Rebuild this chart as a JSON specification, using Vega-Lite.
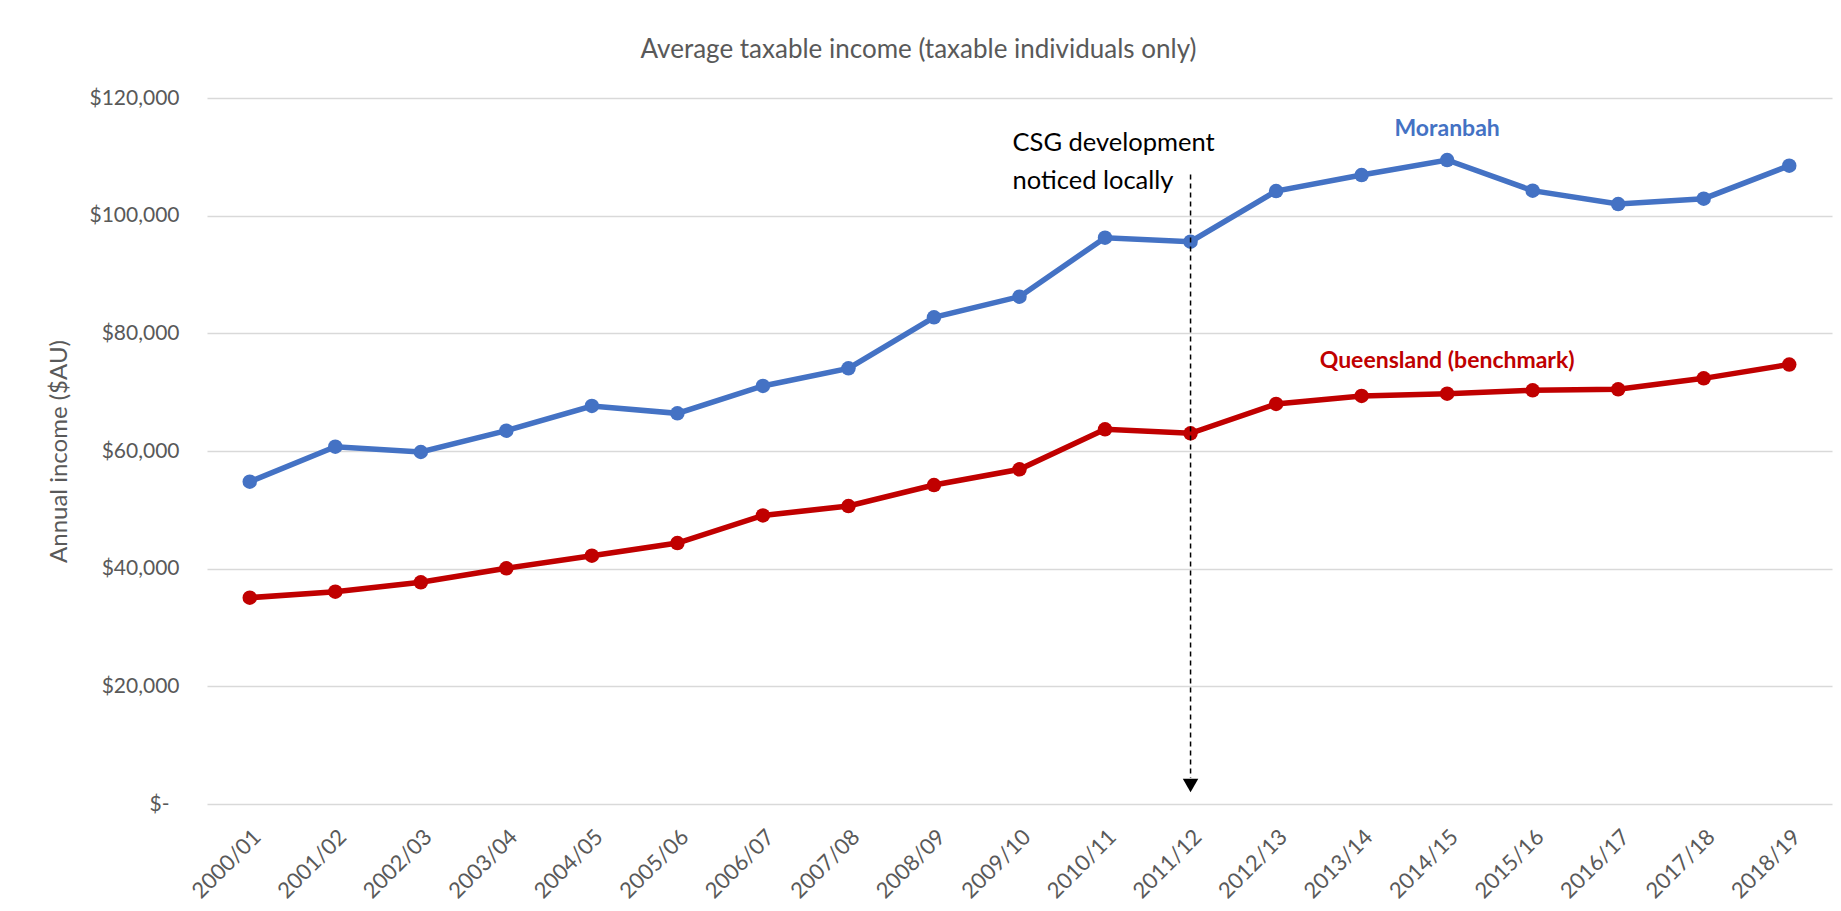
{
  "$schema": "https://vega.github.io/schema/vega-lite/v6.json",
  "width": 1625,
  "height": 706,
  "autosize": {"type": "none"},
  "padding": {"left": 207, "top": 98, "right": 9, "bottom": 107},
  "background": "white",
  "config": {"view": {"stroke": null}, "font": "Lato"},
  "title": {
    "text": "Average taxable income (taxable individuals only)",
    "fontSize": 26,
    "font": "Lato",
    "fontWeight": "normal",
    "color": "#595959",
    "anchor": "middle",
    "dx": -101,
    "dy": 38,
    "offset": 41,
    "baseline": "alphabetic"
  },
  "datasets": {
    "income": [
      {"year": "2000/01", "series": "Moranbah", "value": 54780},
      {"year": "2001/02", "series": "Moranbah", "value": 60730},
      {"year": "2002/03", "series": "Moranbah", "value": 59830},
      {"year": "2003/04", "series": "Moranbah", "value": 63450},
      {"year": "2004/05", "series": "Moranbah", "value": 67650},
      {"year": "2005/06", "series": "Moranbah", "value": 66400},
      {"year": "2006/07", "series": "Moranbah", "value": 71050},
      {"year": "2007/08", "series": "Moranbah", "value": 74050},
      {"year": "2008/09", "series": "Moranbah", "value": 82720},
      {"year": "2009/10", "series": "Moranbah", "value": 86230},
      {"year": "2010/11", "series": "Moranbah", "value": 96260},
      {"year": "2011/12", "series": "Moranbah", "value": 95580},
      {"year": "2012/13", "series": "Moranbah", "value": 104190},
      {"year": "2013/14", "series": "Moranbah", "value": 106910},
      {"year": "2014/15", "series": "Moranbah", "value": 109460},
      {"year": "2015/16", "series": "Moranbah", "value": 104250},
      {"year": "2016/17", "series": "Moranbah", "value": 101980},
      {"year": "2017/18", "series": "Moranbah", "value": 102890},
      {"year": "2018/19", "series": "Moranbah", "value": 108500},
      {"year": "2000/01", "series": "Queensland", "value": 35070},
      {"year": "2001/02", "series": "Queensland", "value": 36090},
      {"year": "2002/03", "series": "Queensland", "value": 37680},
      {"year": "2003/04", "series": "Queensland", "value": 40060},
      {"year": "2004/05", "series": "Queensland", "value": 42210},
      {"year": "2005/06", "series": "Queensland", "value": 44360},
      {"year": "2006/07", "series": "Queensland", "value": 49050},
      {"year": "2007/08", "series": "Queensland", "value": 50650},
      {"year": "2008/09", "series": "Queensland", "value": 54220},
      {"year": "2009/10", "series": "Queensland", "value": 56880},
      {"year": "2010/11", "series": "Queensland", "value": 63680},
      {"year": "2011/12", "series": "Queensland", "value": 63000},
      {"year": "2012/13", "series": "Queensland", "value": 67990},
      {"year": "2013/14", "series": "Queensland", "value": 69350},
      {"year": "2014/15", "series": "Queensland", "value": 69740},
      {"year": "2015/16", "series": "Queensland", "value": 70310},
      {"year": "2016/17", "series": "Queensland", "value": 70480},
      {"year": "2017/18", "series": "Queensland", "value": 72350},
      {"year": "2018/19", "series": "Queensland", "value": 74700}
    ],
    "labels": [
      {"year": "2014/15", "series": "Moranbah", "value": 113500, "label": "Moranbah"},
      {"year": "2014/15", "series": "Queensland", "value": 74100, "label": "Queensland (benchmark)"}
    ],
    "arrow": [
      {"year": "2011/12", "start": 107000, "end": 4400, "head": 3140}
    ],
    "note": [
      {"year": "2011/12", "value": 111000, "text": ["CSG development", "noticed locally"]}
    ]
  },
  "encoding": {
    "x": {
      "field": "year",
      "type": "ordinal",
      "sort": null,
      "scale": {
        "type": "point",
        "padding": 0.5,
        "domain": ["2000/01","2001/02","2002/03","2003/04","2004/05","2005/06","2006/07","2007/08","2008/09","2009/10","2010/11","2011/12","2012/13","2013/14","2014/15","2015/16","2016/17","2017/18","2018/19"]
      },
      "axis": {
        "title": null,
        "labelAngle": -45,
        "labelFontSize": 22,
        "labelFont": "Lato",
        "labelColor": "#595959",
        "labelPadding": 22,
        "domain": false,
        "ticks": false,
        "grid": false
      }
    }
  },
  "layer": [
    {
      "data": {"name": "income"},
      "mark": {"type": "line", "strokeWidth": 5.5, "point": {"filled": true, "size": 210, "opacity": 1}},
      "encoding": {
        "y": {
          "field": "value",
          "type": "quantitative",
          "scale": {"domain": [0, 120000], "nice": false},
          "axis": {
            "title": "Annual income ($AU)",
            "titleFontSize": 24,
            "titleFont": "Lato",
            "titleFontWeight": "normal",
            "titleColor": "#595959",
            "titleX": -148,
            "titleY": 353,
            "titleAlign": "center",
            "titleBaseline": "middle",
            "values": [0, 20000, 40000, 60000, 80000, 100000, 120000],
            "labelExpr": "datum.value == 0 ? '$-' : '$' + format(datum.value, ',')",
            "labelFontSize": 21,
            "labelFont": "Lato",
            "labelColor": "#595959",
            "labelPadding": {"condition": {"test": "datum.value == 0", "value": 38}, "value": 28},
            "domain": false,
            "ticks": false,
            "grid": true,
            "gridColor": "#d9d9d9",
            "gridWidth": 1.5
          }
        },
        "color": {
          "field": "series",
          "type": "nominal",
          "scale": {"domain": ["Moranbah", "Queensland"], "range": ["#4472C4", "#C00000"]},
          "legend": null
        }
      }
    },
    {
      "data": {"name": "arrow"},
      "mark": {"type": "rule", "color": "black", "strokeWidth": 1.5, "strokeDash": [5, 4]},
      "encoding": {
        "y": {"field": "start", "type": "quantitative"},
        "y2": {"field": "end"}
      }
    },
    {
      "data": {"name": "arrow"},
      "mark": {"type": "point", "shape": "triangle-down", "filled": true, "color": "black", "opacity": 1, "size": 240},
      "encoding": {
        "y": {"field": "head", "type": "quantitative"}
      }
    },
    {
      "data": {"name": "note"},
      "mark": {"type": "text", "align": "left", "baseline": "alphabetic", "dx": -178, "fontSize": 25.5, "font": "Lato", "color": "black", "lineHeight": 38},
      "encoding": {
        "y": {"field": "value", "type": "quantitative"},
        "text": {"field": "text"}
      }
    },
    {
      "data": {"name": "labels"},
      "mark": {"type": "text", "align": "center", "baseline": "alphabetic", "fontSize": 23, "font": "Lato", "fontWeight": "bold"},
      "encoding": {
        "y": {"field": "value", "type": "quantitative"},
        "text": {"field": "label"},
        "color": {"field": "series", "type": "nominal"}
      }
    }
  ]
}
